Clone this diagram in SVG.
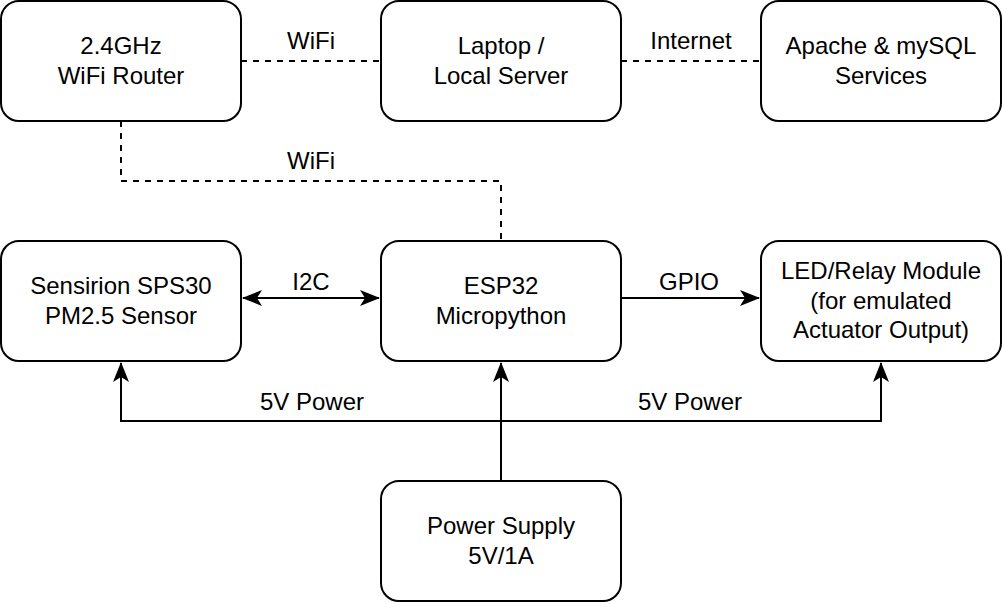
<svg xmlns="http://www.w3.org/2000/svg" width="1002" height="602" viewBox="0 0 1002 602">
<style>
.node{fill:#fff;stroke:#000;stroke-width:2}
text{font-family:"Liberation Sans",Arial,sans-serif;font-size:24px;fill:#000;text-anchor:middle}
.c{fill:none;stroke:#000;stroke-width:2}
.d{stroke-dasharray:6 6}
</style>
<defs>
<marker id="arr" viewBox="0 0 20 16" refX="19" refY="8" markerWidth="20" markerHeight="16" markerUnits="userSpaceOnUse" orient="auto-start-reverse">
<path d="M0,0 L20,8 L0,16 L5,8 Z" fill="#000"/>
</marker>
</defs>
<rect width="1002" height="602" fill="#fff"/>
<g id="connectors">
<path class="c d" d="M241,61 H381"/>
<path class="c d" d="M621,61 H761"/>
<path class="c d" d="M121,121 V181 H501 V241"/>
<path class="c" d="M243,298 H379" marker-start="url(#arr)" marker-end="url(#arr)"/>
<path class="c" d="M621,298 H759" marker-end="url(#arr)"/>
<path class="c" d="M501,481 V363" marker-end="url(#arr)"/>
<path class="c" d="M501,421 H121 V363" marker-end="url(#arr)"/>
<path class="c" d="M501,421 H881 V363" marker-end="url(#arr)"/>
<text x="311" y="49">WiFi</text>
<text x="691" y="49">Internet</text>
<text x="311" y="169">WiFi</text>
<text x="311" y="290">I2C</text>
<text x="689" y="290">GPIO</text>
<text x="312" y="410">5V Power</text>
<text x="690" y="410">5V Power</text>
</g>
<g id="router"><rect class="node" x="1" y="1" width="240" height="120" rx="18"/><text x="121" y="54">2.4GHz</text><text x="121" y="84">WiFi Router</text></g>
<g id="laptop"><rect class="node" x="381" y="1" width="240" height="120" rx="18"/><text x="501" y="54">Laptop /</text><text x="501" y="84">Local Server</text></g>
<g id="apache"><rect class="node" x="761" y="1" width="240" height="120" rx="18"/><text x="881" y="54">Apache &amp; mySQL</text><text x="881" y="84">Services</text></g>
<g id="sensor"><rect class="node" x="1" y="241" width="240" height="120" rx="18"/><text x="121" y="294">Sensirion SPS30</text><text x="121" y="324">PM2.5 Sensor</text></g>
<g id="esp32"><rect class="node" x="381" y="241" width="240" height="120" rx="18"/><text x="501" y="294">ESP32</text><text x="501" y="324">Micropython</text></g>
<g id="led"><rect class="node" x="761" y="241" width="240" height="120" rx="18"/><text x="881" y="279">LED/Relay Module</text><text x="881" y="309">(for emulated</text><text x="881" y="338">Actuator Output)</text></g>
<g id="psu"><rect class="node" x="381" y="481" width="240" height="120" rx="18"/><text x="501" y="534">Power Supply</text><text x="501" y="564">5V/1A</text></g>
</svg>
